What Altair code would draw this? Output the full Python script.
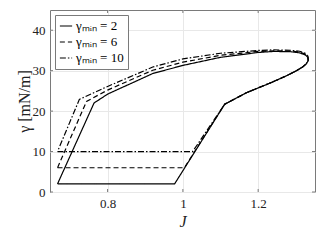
import altair as alt
import pandas as pd

# ---- data ----
labels = ["γₘᵢₙ = 2", "γₘᵢₙ = 6", "γₘᵢₙ = 10"]

J_2 = [0.667, 0.978, 1.111, 1.170, 1.236, 1.272, 1.300, 1.318, 1.328, 1.333, 1.332, 1.325, 1.310, 1.285,
       1.240, 1.200, 1.100, 1.000, 0.920, 0.873, 0.800, 0.764, 0.667]
G_2 = [2.0, 2.0, 21.7, 24.6, 27.1, 28.6, 29.9, 30.9, 31.7, 32.5, 33.3, 33.9, 34.4, 34.7,
       34.75, 34.5, 33.3, 31.3, 29.3, 27.3, 24.2, 22.0, 2.0]

J_6 = [0.667, 1.004, 1.111, 1.170, 1.236, 1.272, 1.300, 1.318, 1.328, 1.333, 1.332, 1.325, 1.310, 1.285,
       1.240, 1.200, 1.100, 1.000, 0.920, 0.873, 0.800, 0.744, 0.667]
G_6 = [6.0, 6.0, 21.7, 24.6, 27.1, 28.6, 29.9, 30.9, 31.7, 32.6, 33.4, 34.1, 34.6, 34.85,
       34.9, 34.75, 33.8, 32.1, 30.1, 28.2, 25.2, 22.4, 6.0]

J_10 = [0.667, 1.026, 1.111, 1.170, 1.236, 1.272, 1.300, 1.318, 1.328, 1.333, 1.332, 1.325, 1.310, 1.285,
        1.240, 1.200, 1.100, 1.000, 0.920, 0.873, 0.800, 0.725, 0.667]
G_10 = [10.0, 10.0, 21.7, 24.6, 27.1, 28.6, 29.9, 30.9, 31.7, 32.7, 33.6, 34.3, 34.8, 35.05,
        35.15, 35.0, 34.3, 32.9, 30.9, 29.0, 26.1, 22.9, 10.0]

x_ticks = [0.8, 1.0, 1.2]
y_ticks = [0, 10, 20, 30, 40]
x_domain = [0.647, 1.351]
y_domain = [0, 45]

rows = []
for lab, js, gs in zip(labels, [J_2, J_6, J_10], [G_2, G_6, G_10]):
    for i, (j, g) in enumerate(zip(js, gs)):
        rows.append({"J": j, "gamma": g, "idx": i, "series": lab})
df = pd.DataFrame(rows)

W, H = 265, 182
FONT = "Liberation Serif"
FRAME = "#7a7a7a"

xs = alt.Scale(domain=x_domain, nice=False, zero=False)
ys = alt.Scale(domain=y_domain, nice=False)

lines = alt.Chart(df).mark_line(strokeWidth=1.2, color="black").encode(
    x=alt.X("J:Q", scale=xs,
            axis=alt.Axis(values=x_ticks, format="~g", title="J", grid=True,
                          ticks=False, domain=False, labelPadding=5,
                          titleFontStyle="italic", titleY=29, titleBaseline="middle")),
    y=alt.Y("gamma:Q", scale=ys,
            axis=alt.Axis(values=y_ticks, title="γ [mN/m]", grid=True,
                          ticks=False, domain=False, labelPadding=5,
                          titleX=-26, titleY=H / 2, titleAngle=270,
                          titleAlign="center", titleBaseline="middle")),
    order="idx:Q",
    detail="series:N",
    strokeDash=alt.StrokeDash(
        "series:N",
        scale=alt.Scale(domain=labels, range=[[1, 0], [5, 3], [6, 2, 1.5, 2]]),
        legend=alt.Legend(title=None, orient="top-left", offset=5,
                          symbolType="stroke", symbolSize=150, symbolStrokeWidth=1.2,
                          symbolStrokeColor="black",
                          labelFont=FONT, labelFontSize=13, labelColor="black",
                          rowPadding=2, padding=4, labelOffset=3,
                          strokeColor=FRAME, fillColor="white"),
    ),
)

xt = pd.DataFrame({"t": x_ticks})
yt = pd.DataFrame({"t": y_ticks})
tl = 3
tick_bot = alt.Chart(xt).mark_rule(color=FRAME, strokeWidth=1).encode(
    x=alt.X("t:Q", scale=xs), y=alt.value(H), y2=alt.value(H - tl))
tick_top = alt.Chart(xt).mark_rule(color=FRAME, strokeWidth=1).encode(
    x=alt.X("t:Q", scale=xs), y=alt.value(0), y2=alt.value(tl))
tick_left = alt.Chart(yt).mark_rule(color=FRAME, strokeWidth=1).encode(
    y=alt.Y("t:Q", scale=ys), x=alt.value(0), x2=alt.value(tl))
tick_right = alt.Chart(yt).mark_rule(color=FRAME, strokeWidth=1).encode(
    y=alt.Y("t:Q", scale=ys), x=alt.value(W - tl), x2=alt.value(W))

chart = alt.layer(lines, tick_bot, tick_top, tick_left, tick_right).properties(
    width=W, height=H,
    autosize=alt.AutoSizeParams(type="none"),
    padding={"left": 42, "top": 2, "right": 2, "bottom": 50},
    background="white",
).configure_view(
    stroke=FRAME, strokeWidth=1
).configure_axis(
    labelFont=FONT, labelFontSize=13, labelColor="#222",
    titleFont=FONT, titleFontSize=16, titleColor="#222", titleFontWeight="normal",
    gridColor="#e8e8e8", gridWidth=1,
)

chart.save("out.html", embed_options={"renderer": "svg", "actions": False})
